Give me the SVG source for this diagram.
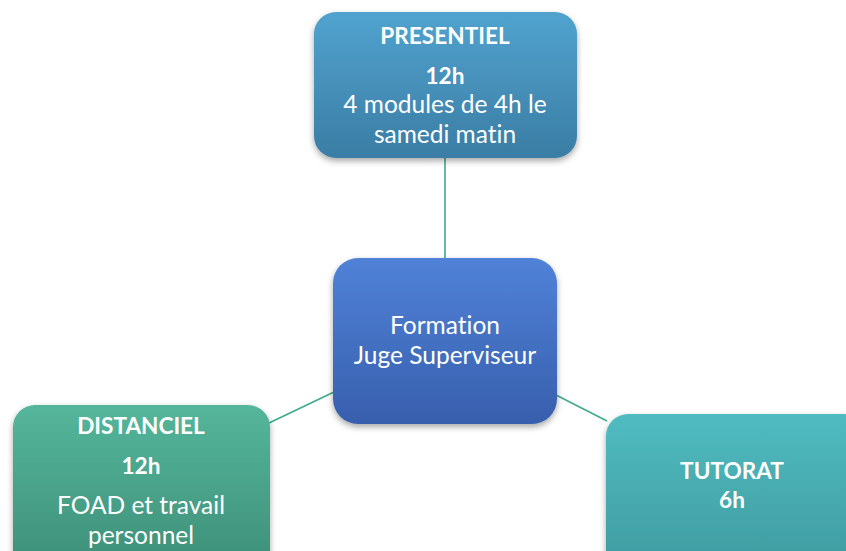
<svg xmlns="http://www.w3.org/2000/svg" width="846" height="551" viewBox="0 0 846 551">
<defs>
<linearGradient id="gP" x1="0" y1="0" x2="0" y2="1"><stop offset="0" stop-color="#51A3CF"/><stop offset="1" stop-color="#3A7DA4"/></linearGradient>
<linearGradient id="gC" x1="0" y1="0" x2="0" y2="1"><stop offset="0" stop-color="#5082D8"/><stop offset="1" stop-color="#385FAD"/></linearGradient>
<linearGradient id="gD" x1="0" y1="0" x2="0" y2="1"><stop offset="0" stop-color="#54B69B"/><stop offset="1" stop-color="#3D8E77"/></linearGradient>
<linearGradient id="gT" x1="0" y1="0" x2="0" y2="1"><stop offset="0" stop-color="#50BCC1"/><stop offset="1" stop-color="#3D989C"/></linearGradient>
<filter id="sh" x="-20%" y="-20%" width="140%" height="150%"><feDropShadow dx="0" dy="3" stdDeviation="3" flood-color="#000" flood-opacity="0.35"/></filter>
</defs>
<style>
text{font-family:Lato,"Open Sans","Liberation Sans",sans-serif;fill:#fff;text-anchor:middle;font-size:24.5px;font-variant-ligatures:none;font-feature-settings:"liga" 0,"dlig" 0}
.b{font-weight:bold;font-size:22.6px}
.c{stroke:#3FAA8C;stroke-width:1.6;fill:none}
</style>
<rect width="846" height="551" fill="#fff"/>
<g id="connectors">
<line class="c" x1="445" y1="158" x2="445" y2="259"/>
<line class="c" x1="334" y1="392" x2="269" y2="423"/>
<line class="c" x1="556" y1="395" x2="607" y2="421"/>
</g>
<g id="presentiel">
<rect x="314" y="12" width="263" height="146" rx="22" fill="url(#gP)" filter="url(#sh)"/>
<text x="445" y="44" class="b">PRESENTIEL</text>
<text x="445" y="84" class="b">12h</text>
<text x="445" y="113">4 modules de 4h le</text>
<text x="445" y="143">samedi matin</text>
</g>
<g id="formation">
<rect x="333" y="258" width="224" height="166" rx="25" fill="url(#gC)" filter="url(#sh)"/>
<text x="445" y="334">Formation</text>
<text x="445" y="364">Juge Superviseur</text>
</g>
<g id="distanciel">
<rect x="13" y="405" width="257" height="170" rx="22" fill="url(#gD)" filter="url(#sh)"/>
<text x="141" y="434" class="b">DISTANCIEL</text>
<text x="141" y="474" class="b">12h</text>
<text x="141" y="514">FOAD et travail</text>
<text x="141" y="544">personnel</text>
</g>
<g id="tutorat">
<rect x="606" y="414" width="260" height="170" rx="22" fill="url(#gT)" filter="url(#sh)"/>
<text x="732" y="479" class="b">TUTORAT</text>
<text x="732" y="508" class="b">6h</text>
</g>
</svg>
